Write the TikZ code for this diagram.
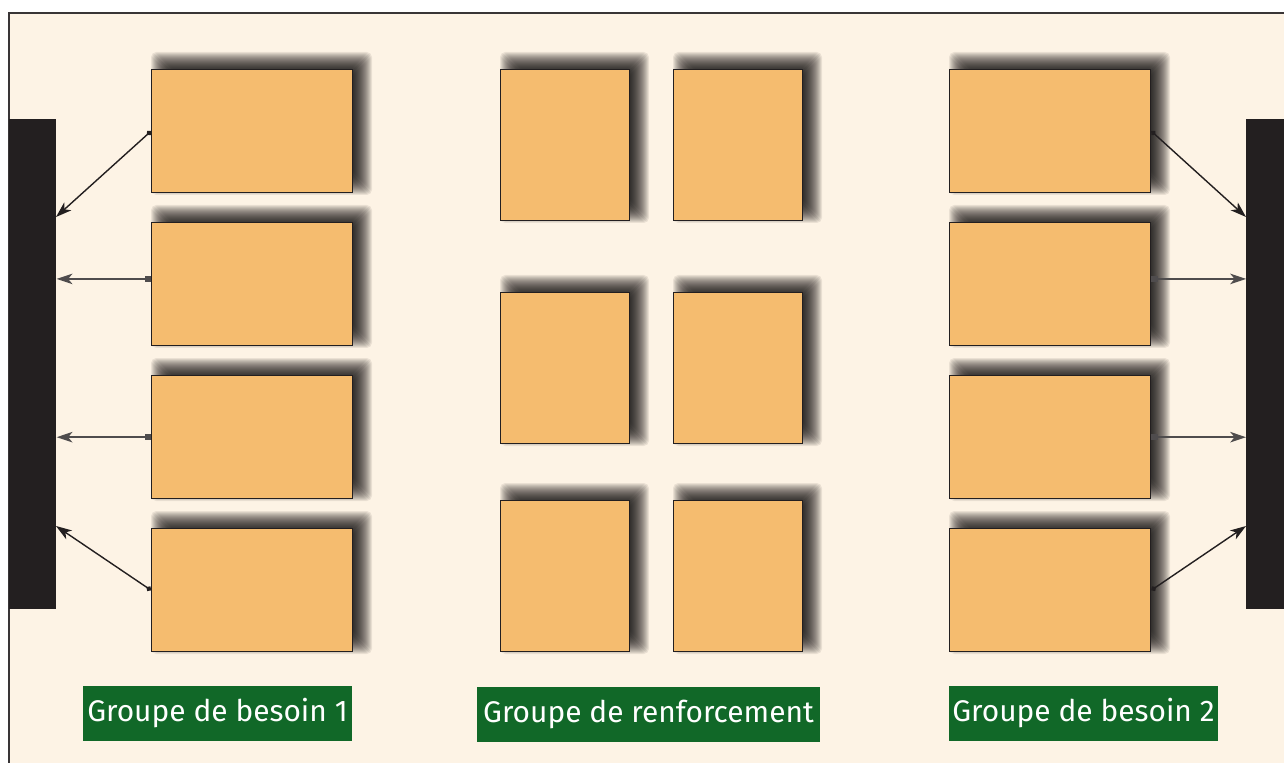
\documentclass[tikz,border=0pt]{standalone}
\usepackage{fontspec}
\setsansfont{Fira Sans}
\usetikzlibrary{arrows.meta}
\definecolor{cream}{HTML}{FDF3E5}
\definecolor{deskorange}{HTML}{F5BC6F}
\definecolor{board}{HTML}{231F20}
\definecolor{groupgreen}{HTML}{116828}
% soft shadow behind a desk: #1,#2 top left corner, #3,#4 size (px)
\newcommand{\deskshadow}[4]{%
    \foreach \e in {10,9,...,-10}
        \fill[black, opacity=0.075, rounded corners=3pt] ({#1+10-\e},{#2-7-\e}) rectangle ({#1+#3+10+\e},{#2+#4-7+\e});}
\begin{document}
\begin{tikzpicture}[x=0.02cm, y=-0.02cm,
    desk/.style={draw=board, line width=0.8pt, fill=deskorange, anchor=north west, inner sep=0pt},
    widedesk/.style={desk, minimum width=4.02cm, minimum height=2.46cm},
    tabledesk/.style={desk, minimum width=2.58cm, minimum height=3.02cm},
    groupname/.style={fill=groupgreen, text=white, font=\sffamily\fontsize{17}{19}\selectfont,
      minimum height=1.1cm, inner sep=0pt},
    tie/.style={line width=0.8pt, draw=board, {Circle[length=3pt]}-{Stealth[length=9pt, width=6pt, inset=2.5pt]}},
    flat/.style={line width=0.8pt, draw=board!80, {Square[length=3.5pt]}-{Stealth[length=9pt, width=6pt, inset=2.5pt]}}]
    \useasboundingbox (0,0) rectangle (1284,763);
    \clip (0,0) rectangle (1284,763);
    \fill[white] (0,0) rectangle (1284,763);
    \draw[line width=1.2pt, draw=board!90, fill=cream] (9,13) rectangle (1320,800);
    % boards
    \node[fill=board, anchor=north west, minimum width=0.94cm, minimum height=9.8cm, inner sep=0pt] (barL) at (9,119) {};
    \node[fill=board, anchor=north west, minimum width=1.2cm, minimum height=9.8cm, inner sep=0pt] (barR) at (1246,119) {};
    % desks
    \foreach \i/\y in {1/69,2/222,3/375,4/528} {
        \deskshadow{151}{\y}{201}{123}
        \deskshadow{949}{\y}{201}{123}
        \node[widedesk] (l\i) at (151,\y) {};
        \node[widedesk] (r\i) at (949,\y) {};
    }
    \foreach \i/\y in {1/69,2/292,3/500} {
        \deskshadow{500}{\y}{129}{151}
        \deskshadow{673}{\y}{129}{151}
        \node[tabledesk] (ma\i) at (500,\y) {};
        \node[tabledesk] (mb\i) at (673,\y) {};
    }
    % arrows
    \coordinate (aL1) at (56,217);
    \coordinate (aL4) at (56,526);
    \coordinate (aR1) at (1246,217);
    \coordinate (aR4) at (1246,526);
    \coordinate (sL2) at ([yshift=3pt]l2.west);
    \coordinate (sR2) at ([yshift=3pt]r2.east);
    \draw[tie] (l1.west) -- (aL1);
    \draw[flat] (sL2) -- (barL.east |- sL2);
    \draw[flat] (l3.west) -- (barL.east |- l3.west);
    \draw[tie] (l4.west) -- (aL4);
    \draw[tie] (r1.east) -- (aR1);
    \draw[flat] (sR2) -- (barR.west |- sR2);
    \draw[flat] (r3.east) -- (barR.west |- r3.east);
    \draw[tie] (r4.east) -- (aR4);
    % groups
    \node[groupname, minimum width=5.38cm] (g1) at (217.5,713.5) {Groupe de besoin 1};
    \node[groupname, minimum width=6.86cm] (g2) at (648.5,714) {Groupe de renforcement};
    \node[groupname, minimum width=5.38cm] (g3) at (1083.5,713.5) {Groupe de besoin 2};
\end{tikzpicture}
\end{document}
